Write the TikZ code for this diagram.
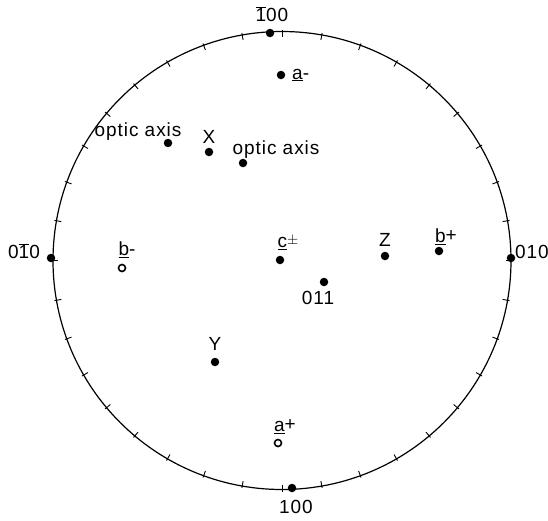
\documentclass[tikz,border=0pt]{standalone}
\usepackage{fontspec}
\setmainfont{Liberation Sans}[LetterSpace=5]
\usetikzlibrary{positioning,calc}

\newcommand{\bone}{$\overline{\mbox{1}}$}

\begin{document}
\begin{tikzpicture}[x=1pt, y=-1pt, font=\fontsize{19}{21}\selectfont,
  upper/.style={circle, fill=black, inner sep=0pt, minimum size=8.5pt},
  lower/.style={circle, draw=black, line width=1.6pt, inner sep=0pt, minimum size=7pt},
  lbl/.style={inner sep=1pt},
  rim/.style={line width=1.2pt}]
  \useasboundingbox (0,0) rectangle (548,520);
  % --- primitive circle, ticks every 10 degrees
  \coordinate (o) at (282,260.5);
  \draw[rim] (o) circle[radius=229pt];
  \foreach \t in {0,10,...,350}
    \draw[line width=0.9pt] ($(o)+(\t:224)$) -- ($(o)+(\t:231)$);
  % --- poles on the primitive
  \node[upper] (top)   at (270,33)  {};
  \node[upper] (bot)   at (292,488) {};
  \node[upper] (left)  at (51,258)  {};
  \node[upper] (right) at (511,258) {};
  \node[lbl] (ltop)   at (272,14)  {\bone00};
  \node[lbl] (lbot)   at (296,507) {100};
  \node[lbl] (lleft)  at (24,251)  {0\bone0};
  \node[lbl, anchor=west] (lright) at (514,252) {010};
  % --- axes a, b, c
  \node[upper] (am) at (281,75)  {};
  \node[lbl, anchor=west] (lam) at (291,75) {\underline{a}-};
  \node[lower] (ap) at (278,443) {};
  \node[lbl] (lap) at (285,427) {\underline{a}\raisebox{1pt}{+}};
  \node[lower] (bm) at (122,268) {};
  \node[lbl] (lbm) at (127,250) {\underline{b}-};
  \node[upper] (bp) at (439,251) {};
  \node[lbl] (lbp) at (446,237) {\underline{b}\raisebox{1pt}{+}};
  \node[upper] (c) at (280,260) {};
  \node[lbl] (lc) at (288,243) {\underline{c}\raisebox{3pt}{\fontsize{14}{14}\selectfont$\pm$}};
  \node[upper] (o11) at (324,282) {};
  \node[lbl] (lo11) at (318,298) {011};
  % --- optical indicatrix
  \node[upper] (x) at (209,152) {};
  \node[lbl] (lx) at (209,137) {X};
  \node[upper] (y) at (215,362) {};
  \node[lbl] (ly) at (215,344) {Y};
  \node[upper] (z) at (385,256) {};
  \node[lbl] (lz) at (385,240) {Z};
  \node[upper] (oa1) at (168,143) {};
  \node[lbl] (loa1) at (138,132) {optic axis};
  \node[upper] (oa2) at (243,163) {};
  \node[lbl] (loa2) at (276,150) {optic axis};
\end{tikzpicture}
\end{document}
